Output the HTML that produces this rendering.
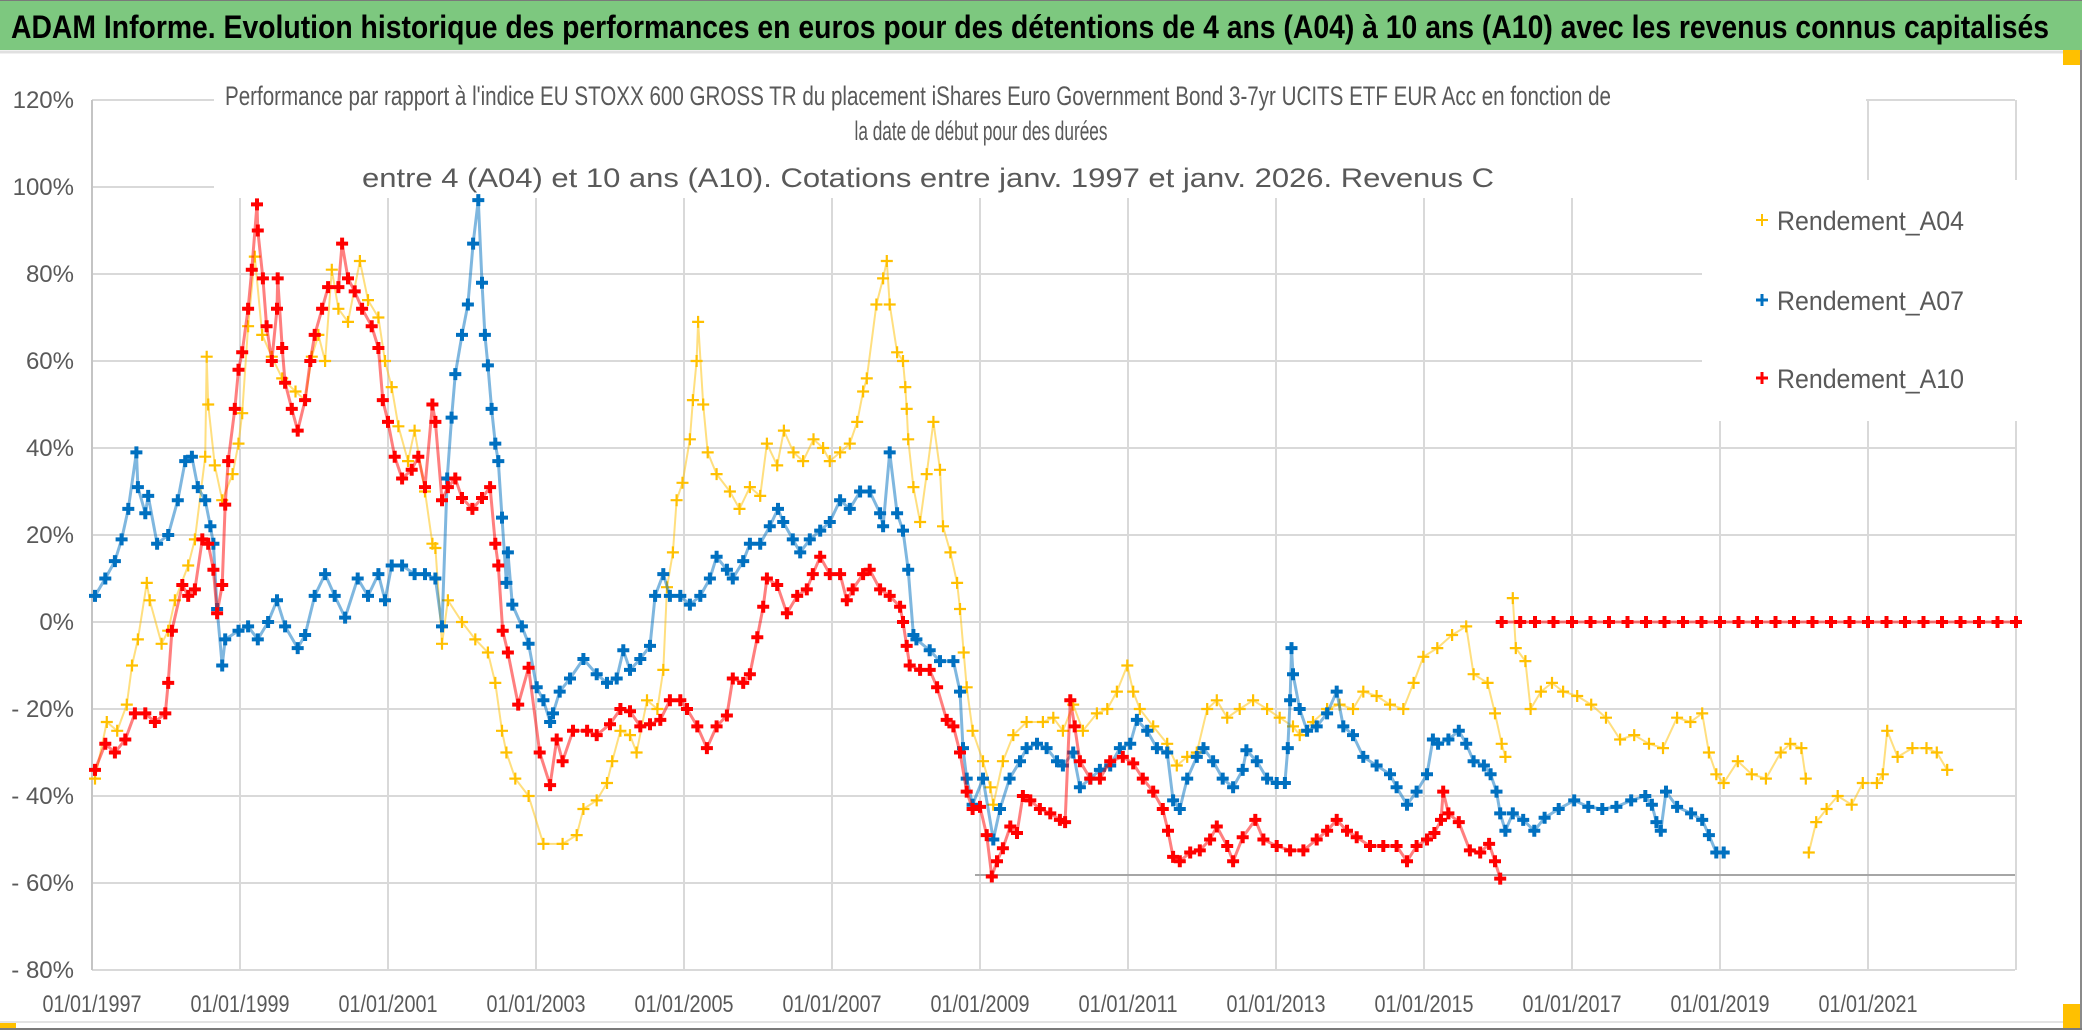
<!DOCTYPE html>
<html><head><meta charset="utf-8"><title>ADAM Informe chart</title>
<style>
html,body{margin:0;padding:0;background:#fff;}
svg{display:block;}
text{font-family:"Liberation Sans Narrow","Liberation Sans",sans-serif;}
</style></head>
<body>
<svg id="chart" width="2086" height="1031" viewBox="0 0 2086 1031" xmlns="http://www.w3.org/2000/svg">
  <rect x="0" y="0" width="2086" height="1031" fill="#ffffff"/>
  <rect x="0" y="0" width="2082" height="50" fill="#7dc87f"/>
  <line x1="0" y1="0.5" x2="2082" y2="0.5" stroke="#7a7a7a" stroke-width="1"/>
  <line x1="0" y1="52" x2="2082" y2="52" stroke="#e0e0e0" stroke-width="3"/>
  <text x="11" y="38" font-size="32" font-weight="bold" fill="#000" textLength="2038" lengthAdjust="spacingAndGlyphs">ADAM Informe. Evolution historique des performances en euros pour des détentions de 4 ans (A04) à 10 ans (A10) avec les revenus connus capitalisés</text>
  <g id="grid"></g>
  <line x1="975" y1="875" x2="2015" y2="875" stroke="#a6a6a6" stroke-width="2"/>
  <rect x="214" y="56" width="1652" height="142" fill="#fff"/>
  <rect x="1702" y="180" width="318" height="241" fill="#fff"/>
  <g id="axes"></g>
  <g id="series"></g>
  <text x="918" y="105" font-size="27" fill="#595959" text-anchor="middle" textLength="1386" lengthAdjust="spacingAndGlyphs">Performance par rapport à l'indice EU STOXX 600 GROSS TR  du placement iShares Euro Government Bond 3-7yr UCITS ETF EUR Acc en fonction de</text>
  <text x="981" y="140" font-size="27" fill="#595959" text-anchor="middle" textLength="253" lengthAdjust="spacingAndGlyphs">la date de début pour des durées</text>
  <text x="928" y="187" font-size="27" fill="#595959" text-anchor="middle" textLength="1132" lengthAdjust="spacingAndGlyphs">entre 4 (A04) et 10 ans (A10). Cotations entre janv. 1997 et janv. 2026. Revenus C</text>
  <g id="legend">
    <g>
      <path d="M1762 214v12M1756 220h12" stroke="#ffc000" stroke-width="2"/>
      <text x="1777" y="230" font-size="27" fill="#595959" textLength="187" lengthAdjust="spacingAndGlyphs">Rendement_A04</text>
    </g>
    <g>
      <path d="M1762 294v12M1756 300h12" stroke="#0070c0" stroke-width="3"/>
      <text x="1777" y="310" font-size="27" fill="#595959" textLength="187" lengthAdjust="spacingAndGlyphs">Rendement_A07</text>
    </g>
    <g>
      <path d="M1762 372v12M1756 378h12" stroke="#ff0000" stroke-width="3"/>
      <text x="1777" y="388" font-size="27" fill="#595959" textLength="187" lengthAdjust="spacingAndGlyphs">Rendement_A10</text>
    </g>
  </g>
  <line x1="2081" y1="50" x2="2081" y2="1029" stroke="#8a8a8a" stroke-width="2"/>
  <line x1="0" y1="1022" x2="2080" y2="1022" stroke="#e3e3e3" stroke-width="2"/>
  <line x1="0" y1="1029" x2="2082" y2="1029" stroke="#7a7a7a" stroke-width="2"/>
  <rect x="0" y="1023" width="16" height="5" fill="#ffc000"/>
  <rect x="2063" y="1004" width="17" height="24" fill="#ffc000"/>
  <rect x="2063" y="50" width="17" height="15" fill="#ffc000"/>
</svg>
<script>
const yTickValues = [120,100,80,60,40,20,0,-20,-40,-60,-80];
const yTickLabels = ["120%","100%","80%","60%","40%","20%","0%","- 20%","- 40%","- 60%","- 80%"];
const xTickYears = [1997,1999,2001,2003,2005,2007,2009,2011,2013,2015,2017,2019,2021,2023];
const xTickLabels = ["01/01/1997","01/01/1999","01/01/2001","01/01/2003","01/01/2005","01/01/2007","01/01/2009","01/01/2011","01/01/2013","01/01/2015","01/01/2017","01/01/2019","01/01/2021",""];

const a04Years = [1997.04,1997.2,1997.34,1997.47,1997.54,1997.62,1997.74,1997.78,1997.94,1998.03,1998.12,1998.3,1998.39,1998.53,1998.55,1998.57,1998.66,1998.76,1998.9,1998.98,1999.03,1999.11,1999.2,1999.3,1999.43,1999.57,1999.75,1999.88,1999.97,2000.06,2000.15,2000.24,2000.33,2000.46,2000.62,2000.73,2000.87,2000.96,2001.05,2001.14,2001.27,2001.36,2001.5,2001.6,2001.64,2001.73,2001.81,2002.0,2002.18,2002.35,2002.45,2002.54,2002.6,2002.72,2002.9,2003.1,2003.36,2003.55,2003.64,2003.82,2003.96,2004.03,2004.14,2004.27,2004.36,2004.5,2004.64,2004.72,2004.77,2004.85,2004.9,2004.98,2005.08,2005.12,2005.17,2005.19,2005.26,2005.32,2005.44,2005.62,2005.75,2005.89,2006.03,2006.12,2006.26,2006.35,2006.48,2006.61,2006.75,2006.88,2006.97,2007.11,2007.24,2007.34,2007.42,2007.47,2007.6,2007.69,2007.74,2007.78,2007.88,2007.96,2007.99,2008.01,2008.03,2008.1,2008.19,2008.28,2008.37,2008.46,2008.5,2008.6,2008.69,2008.73,2008.78,2008.82,2008.9,2009.04,2009.14,2009.18,2009.31,2009.45,2009.63,2009.85,2009.99,2010.12,2010.26,2010.39,2010.58,2010.72,2010.85,2010.99,2011.07,2011.16,2011.34,2011.53,2011.66,2011.8,2011.93,2012.07,2012.2,2012.34,2012.51,2012.69,2012.88,2013.05,2013.23,2013.32,2013.5,2013.69,2013.86,2014.04,2014.18,2014.36,2014.54,2014.72,2014.86,2014.99,2015.18,2015.38,2015.57,2015.67,2015.86,2015.96,2016.05,2016.1,2016.15,2016.2,2016.24,2016.37,2016.44,2016.58,2016.73,2016.88,2017.07,2017.26,2017.46,2017.65,2017.84,2018.04,2018.23,2018.42,2018.6,2018.76,2018.85,2018.95,2019.05,2019.24,2019.43,2019.62,2019.82,2019.95,2020.1,2020.16,2020.18,2020.2,2020.3,2020.44,2020.59,2020.78,2020.93,2021.12,2021.2,2021.26,2021.4,2021.6,2021.79,2021.93,2022.07];
const a04Values = [-36,-23,-25,-19,-10,-4,9,5,-5,-2,5,13,19,38,61,50,36,28,34,41,48,68,84,66,61,56,53,51,61,66,60,81,72,69,83,74,70,60,54,45,37,44,30,18,17,-5,5,0,-4,-7,-14,-25,-30,-36,-40,-51,-51,-49,-43,-41,-37,-32,-25,-26,-30,-18,-20,-11,8,16,28,32,42,51,60,69,50,39,34,30,26,31,29,41,36,44,39,37,42,40,37,39,41,46,53,56,73,79,83,73,62,60,54,49,42,31,23,34,46,35,22,16,9,3,-7,-15,-25,-32,-38,-42,-32,-26,-23,-23,-22,-25,-19,-25,-21,-20,-16,-10,-16,-20,-24,-28,-33,-31,-30,-20,-18,-22,-20,-18,-20,-22,-24,-26,-23,-20,-19,-20,-16,-17,-19,-20,-14,-8,-6,-3,-1,-12,-14,-21,-28,-31,null,5.5,-6,-9,-20,-16,-14,-16,-17,-19,-22,-27,-26,-28,-29,-22,-23,-21,-30,-35,-37,-32,-35,-36,-30,-28,-29,-36,null,-53,-46,-43,-40,-42,-37,-37,-35,-25,-31,-29,-29,-30,-34];

const a07Years = [1997.04,1997.18,1997.31,1997.4,1997.49,1997.6,1997.62,1997.72,1997.76,1997.88,1998.03,1998.16,1998.26,1998.35,1998.43,1998.53,1998.6,1998.64,1998.69,1998.76,1998.8,1998.98,1999.11,1999.24,1999.38,1999.5,1999.61,1999.78,1999.88,2000.01,2000.15,2000.28,2000.42,2000.59,2000.73,2000.87,2000.96,2001.05,2001.19,2001.36,2001.5,2001.64,2001.73,2001.8,2001.86,2001.91,2002.0,2002.08,2002.15,2002.22,2002.27,2002.31,2002.35,2002.4,2002.45,2002.49,2002.54,2002.6,2002.62,2002.68,2002.81,2002.9,2003.01,2003.1,2003.19,2003.23,2003.32,2003.46,2003.64,2003.82,2003.96,2004.09,2004.18,2004.27,2004.41,2004.54,2004.61,2004.72,2004.81,2004.95,2005.08,2005.22,2005.35,2005.44,2005.58,2005.66,2005.8,2005.89,2006.03,2006.16,2006.27,2006.34,2006.47,2006.57,2006.7,2006.84,2006.97,2007.11,2007.24,2007.38,2007.51,2007.65,2007.69,2007.78,2007.88,2007.96,2008.03,2008.1,2008.14,2008.32,2008.46,2008.64,2008.73,2008.77,2008.82,2008.9,2009.04,2009.18,2009.27,2009.4,2009.54,2009.63,2009.77,2009.9,2010.04,2010.12,2010.26,2010.35,2010.49,2010.62,2010.76,2010.89,2011.03,2011.12,2011.26,2011.39,2011.53,2011.61,2011.7,2011.8,2011.93,2012.02,2012.15,2012.28,2012.42,2012.55,2012.6,2012.74,2012.88,2013.01,2013.12,2013.16,2013.19,2013.21,2013.23,2013.32,2013.42,2013.55,2013.69,2013.82,2013.91,2014.04,2014.18,2014.36,2014.54,2014.63,2014.77,2014.9,2015.04,2015.12,2015.19,2015.33,2015.47,2015.57,2015.67,2015.81,2015.9,2015.98,2016.03,2016.1,2016.2,2016.34,2016.49,2016.63,2016.82,2017.03,2017.22,2017.41,2017.6,2017.8,2017.99,2018.08,2018.14,2018.2,2018.27,2018.42,2018.61,2018.76,2018.85,2018.95,2019.05];
const a07Values = [6,10,14,19,26,39,31,25,29,18,20,28,37,38,31,28,22,18,3,-10,-4,-2,-1,-4,0,5,-1,-6,-3,6,11,6,1,10,6,11,5,13,13,11,11,10,-1,33,47,57,66,73,87,97,78,66,59,49,41,37,24,9,16,4,-1,-5,-15,-18,-23,-21,-16,-13,-8.5,-12,-14,-13,-6.5,-11,-8.5,-5.5,6,11,6,6,4,6,10,15,12,10,14,18,18,22,26,23,19,16,19,21,23,28,26,30,30,25,22,39,25,21,12,-3,-4,-6.5,-9,-9,-16,-29,-36,-42,-36,-50,-43,-36,-32,-29,-28,-29,-32,-33,-30,-38,-36,-34,-33,-29,-28,-22.5,-25,-29,-30,-41,-43,-36,-31,-29,-32,-36,-38,-34,-29.5,-32,-36,-37,-37,-29,-18,-6,-12,-20,-25,-24,-21,-16,-24,-26,-31,-33,-35,-38,-42,-39,-35,-27,-28,-27,-25,-28,-32,-33,-35,-39,-44,-48,-44,-45.5,-48,-45,-43,-41,-42.5,-43,-42.5,-41,-40,-42,-46,-48,-39,-42.5,-44,-45.5,-49,-53,-53];

const a10Years = [1997.04,1997.18,1997.31,1997.45,1997.58,1997.72,1997.85,1997.99,1998.03,1998.08,1998.22,1998.3,1998.39,1998.49,1998.57,1998.64,1998.69,1998.76,1998.8,1998.84,1998.93,1998.98,1999.03,1999.11,1999.16,1999.23,1999.24,1999.31,1999.36,1999.43,1999.5,1999.51,1999.57,1999.61,1999.7,1999.78,1999.88,1999.95,2000.01,2000.11,2000.19,2000.33,2000.38,2000.46,2000.55,2000.65,2000.78,2000.87,2000.93,2001.0,2001.09,2001.19,2001.32,2001.41,2001.5,2001.6,2001.64,2001.73,2001.81,2001.91,2002.0,2002.14,2002.27,2002.38,2002.45,2002.49,2002.55,2002.62,2002.76,2002.9,2003.05,2003.19,2003.28,2003.36,2003.5,2003.69,2003.82,2004.0,2004.14,2004.27,2004.41,2004.54,2004.68,2004.81,2004.95,2005.04,2005.18,2005.31,2005.44,2005.58,2005.66,2005.8,2005.89,2005.99,2006.07,2006.12,2006.26,2006.39,2006.53,2006.66,2006.74,2006.84,2006.97,2007.11,2007.2,2007.28,2007.42,2007.51,2007.65,2007.78,2007.92,2007.96,2008.01,2008.05,2008.19,2008.32,2008.42,2008.55,2008.64,2008.73,2008.82,2008.9,2009.0,2009.09,2009.16,2009.23,2009.31,2009.41,2009.5,2009.58,2009.68,2009.81,2009.95,2010.08,2010.15,2010.22,2010.28,2010.35,2010.49,2010.62,2010.76,2010.93,2011.07,2011.2,2011.34,2011.47,2011.54,2011.61,2011.7,2011.84,2011.97,2012.11,2012.2,2012.34,2012.42,2012.55,2012.72,2012.83,2013.01,2013.19,2013.37,2013.55,2013.69,2013.82,2013.96,2014.09,2014.27,2014.45,2014.63,2014.77,2014.9,2015.04,2015.14,2015.23,2015.26,2015.33,2015.47,2015.62,2015.76,2015.88,2015.96,2016.03,2016.04,2016.05,2016.3,2016.5,2016.75,2017.0,2017.25,2017.5,2017.75,2018.0,2018.25,2018.5,2018.75,2019.0,2019.25,2019.5,2019.75,2020.0,2020.25,2020.5,2020.75,2021.0,2021.25,2021.5,2021.75,2022.0,2022.25,2022.5,2022.75,2023.0];
const a10Values = [-34,-28,-30,-27,-21,-21,-23,-21,-14,-2,8.5,6,7.5,19,18,12,2,8.5,27,37,49,58,62,72,81,96,90,79,68,60,72,79,63,55,49,44,51,60,66,72,77,77,87,79,76,72,68,63,51,46,38,33,35,38,31,50,46,28,31,33,28.5,26,28.5,31,18,13,-2,-7,-19,-10.5,-30,-37.5,-27,-32,-25,-25,-26,-23.5,-20,-20.5,-24,-23.5,-22.5,-18,-18,-20,-24,-29,-24,-21.5,-13,-14,-12,-3.5,3.5,10,8.5,2,6,7.5,11,15,11,11,5,7.5,11,12,7.5,6,3.5,0,-5.5,-10,-11,-11,-15,-22.5,-24,-30,-39,-43,-42.5,-49,-58.5,-55,-52,-47,-48.5,-40,-41,-43,-44,-45.5,-46,-18,-24,-32,-36,-36,-32,-31,-32.5,-36,-39,-43,-48,-54,-55,-53,-52.5,-50,-47,-51.5,-55,-49.5,-45.5,-50,-51.5,-52.5,-52.5,-50,-48,-45.5,-48,-49.5,-51.5,-51.5,-51.5,-55,-51.5,-50,-48.5,-45.5,-39,-44,-46,-52.5,-53,-51,-55,-59,null,0,0,0,0,0,0,0,0,0,0,0,0,0,0,0,0,0,0,0,0,0,0,0,0,0,0,0,0,0];

const NS = "http://www.w3.org/2000/svg";
const X0 = 92, PX_PER_YEAR = 74, Y0 = 622, PX_PER_PCT = 4.35, PLOT_RIGHT = 2015, PLOT_TOP = 100, PLOT_BOTTOM = 970;
function xScale(yr){ return X0 + (yr - 1997) * PX_PER_YEAR; }
function yScale(v){ return Y0 - v * PX_PER_PCT; }
function mk(tag, attrs){ const e = document.createElementNS(NS, tag); for (const k in attrs) e.setAttribute(k, attrs[k]); return e; }

const grid = document.getElementById('grid');
yTickValues.forEach((v, i) => {
  const ln = mk('line', {x1: X0, x2: PLOT_RIGHT, y1: yScale(v), y2: yScale(v), stroke: '#d9d9d9', 'stroke-width': 2});
  
  
  grid.appendChild(ln);
});
xTickYears.forEach((yr, i) => {
  if (i === 0) return;
  const ln = mk('line', {x1: xScale(yr), x2: xScale(yr), y1: PLOT_TOP, y2: PLOT_BOTTOM, stroke: '#d9d9d9', 'stroke-width': 2});
  
  
  grid.appendChild(ln);
});

const axes = document.getElementById('axes');
const yAxis = mk('line', {x1: X0, x2: X0, y1: PLOT_TOP, y2: PLOT_BOTTOM, stroke: '#c4c4c4', 'stroke-width': 2});


axes.appendChild(yAxis);
yTickValues.forEach((v, i) => {
  const t = mk('text', {x: 74, y: yScale(v) + 8, 'font-size': 24, fill: '#595959', 'text-anchor': 'end'});
  t.textContent = yTickLabels[i];
  
  
  axes.appendChild(t);
});
xTickYears.forEach((yr, i) => {
  if (!xTickLabels[i]) return;
  const t = mk('text', {x: xScale(yr), y: 1012, 'font-size': 24, fill: '#595959', 'text-anchor': 'middle', textLength: 99, lengthAdjust: 'spacingAndGlyphs'});
  t.textContent = xTickLabels[i];
  
  
  axes.appendChild(t);
});

const seriesLayer = document.getElementById('series');
function drawSeries(name, years, values, color, lineW, arm, markW){
  const g = mk('g', {});
  
  
  let segs = [], cur = [];
  years.forEach((yr, i) => {
    const v = values[i];
    if (v === null || v === undefined) { if (cur.length) segs.push(cur); cur = []; return; }
    cur.push(xScale(yr).toFixed(1) + ',' + yScale(v).toFixed(1));
  });
  if (cur.length) segs.push(cur);
  segs.forEach(s => {
    const pl = mk('polyline', {points: s.join(' '), fill: 'none', stroke: color, 'stroke-width': lineW, 'stroke-linejoin': 'round', 'stroke-linecap': 'round', opacity: 0.5});
    
    
    g.appendChild(pl);
  });
  let d = '';
  years.forEach((yr, i) => {
    const v = values[i];
    if (v === null || v === undefined) return;
    const x = xScale(yr), y = yScale(v);
    d += 'M' + (x - arm).toFixed(1) + ' ' + y.toFixed(1) + 'h' + (2 * arm) + 'M' + x.toFixed(1) + ' ' + (y - arm).toFixed(1) + 'v' + (2 * arm);
  });
  const p = mk('path', {d: d, stroke: color, 'stroke-width': markW, fill: 'none'});
  
  
  g.appendChild(p);
  seriesLayer.appendChild(g);
}
drawSeries('series-a04', a04Years, a04Values, '#ffc000', 2, 6, 2.2);
drawSeries('series-a07', a07Years, a07Values, '#0070c0', 3, 6, 4);
drawSeries('series-a10', a10Years, a10Values, '#ff0000', 3, 6, 4);
</script>
</body></html>
